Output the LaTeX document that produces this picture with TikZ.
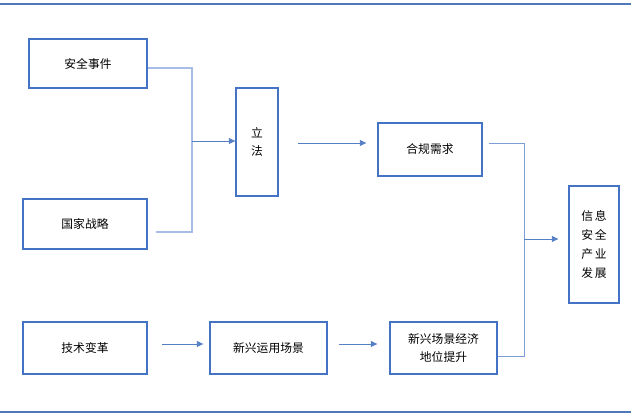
\documentclass[tikz,border=0pt]{standalone}
\usepackage{fontspec}
\setmainfont{Noto Sans CJK SC}
\usetikzlibrary{arrows.meta, calc}
\definecolor{boxblue}{HTML}{4472C4}
\definecolor{lineblue}{HTML}{A7BCE6}
\definecolor{midblue}{HTML}{7D9DD6}
\definecolor{arrblue}{HTML}{5680C6}
\definecolor{ruleblue}{HTML}{5079BA}

\begin{document}
\begin{tikzpicture}[x=0.85pt, y=-0.85pt, font=\fontsize{10}{16}\selectfont,
    box/.style 2 args={draw=boxblue, line width=1.1pt, inner sep=0pt, align=center,
      minimum width=#1*0.85pt, minimum height=#2*0.85pt},
    link/.style={lineblue, line width=0.9pt},
    link2/.style={midblue, line width=0.8pt},
    arr/.style={arrblue, line width=0.8pt, -{Triangle[length=5.5pt, width=5pt]}}]
  \useasboundingbox (0,0) rectangle (640,419);
  % rules
  \draw[ruleblue, line width=1.7pt] (0,4) -- (631,4);
  \draw[ruleblue, line width=1.7pt] (0,412) -- (631,412);

  % boxes
  \node[box={118}{49}] (sjsj) at (88,63.5) {安全事件};
  \node[box={124}{50}] (gjzl) at (85,224) {国家战略};
  \node[box={42}{108}] (lf) at (257,142) {立\\法};
  \node[box={104}{53}] (hgxq) at (430,149.5) {合规需求};
  \node[box={50}{117}] (xxaq) at (594,244.5) {信\,息\\安\,全\\产\,业\\发\,展};
  \node[box={124}{52}] (jsbg) at (85,348) {技术变革};
  \node[box={117}{52}] (xxyy) at (268.5,348) {新兴运用场景};
  \node[box={107}{52}] (xxcj) at (443.5,348) {新兴场景经济\\地位提升};

  % joins
  \coordinate (jl) at (192,141);
  \coordinate (jr) at (524,239);

  \draw[link] ($(sjsj.east)+(0,4.5)$) -| (jl);
  \draw[link] ($(gjzl.east)+(8,8)$) -| (jl);
  \draw[arr] (jl) -- (lf.west |- jl);
  \draw[arr] ($(lf.east)+(19,1)$) -- ($(hgxq.west)+(-11,-6.5)$);

  \draw[link2] ($(hgxq.east)+(6,-6.5)$) -| (jr);
  \draw[link2] ($(xxcj.east)+(0,8)$) -| (jr);
  \draw[arr] (jr) -- ($(xxaq.west)+(-10,-5.5)$);

  \draw[arr] ($(jsbg.east)+(14,-4)$) -- ($(xxyy.west)+(-6,-4)$);
  \draw[arr] ($(xxyy.east)+(11,-4)$) -- ($(xxcj.west)+(-12,-4)$);
\end{tikzpicture}
\end{document}
